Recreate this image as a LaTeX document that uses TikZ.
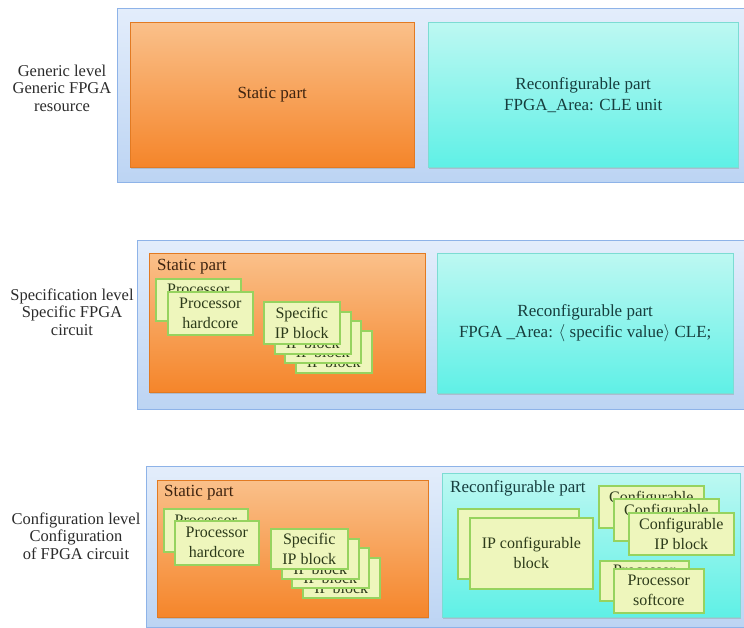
\documentclass[tikz,border=0pt]{standalone}
\usepackage{fontspec}
\setmainfont{Liberation Serif}
\usetikzlibrary{positioning,shadows}
\definecolor{levtop}{HTML}{E3EDFB}
\definecolor{levbot}{HTML}{BCD4F3}
\definecolor{leveledge}{HTML}{8EB3E8}
\definecolor{orgtop}{HTML}{FAC08A}
\definecolor{orgbot}{HTML}{F5852A}
\definecolor{orgedge}{HTML}{E27A22}
\definecolor{orgtext}{HTML}{3E2410}
\definecolor{cyntop}{HTML}{BDF8F2}
\definecolor{cynbot}{HTML}{5FF0E6}
\definecolor{cynedge}{HTML}{7CDCD3}
\definecolor{cyntext}{HTML}{173E3E}
\definecolor{ipfill}{HTML}{EEF6BC}
\definecolor{ipedge}{HTML}{96D35F}
\definecolor{iptext}{HTML}{2C3A1A}
\definecolor{labeltext}{HTML}{2B2B2B}
\newcommand{\bodyfont}{\fontsize{17}{21}\selectfont}
\newcommand{\ipfont}{\fontsize{16}{20}\selectfont}
\newcommand{\labelfont}{\fontsize{16.5}{17.5}\selectfont}
\tikzset{
    levelbox/.style={anchor=north west,inner sep=0pt,draw=leveledge,line width=1.2pt,top color=levtop,bottom color=levbot},
    partbox/.style={anchor=north west,align=center,inner sep=0pt,font=\bodyfont,
        drop shadow={shadow xshift=1.2pt,shadow yshift=-1.6pt,opacity=.3}},
    staticbox/.style={partbox,top color=orgtop,bottom color=orgbot,draw=orgedge,text=orgtext},
    reconfbox/.style={partbox,top color=cyntop,bottom color=cynbot,draw=cynedge,text=cyntext},
    ipbox/.style={partbox,font=\ipfont,fill=ipfill,draw=ipedge,line width=1.6pt,text=iptext},
    partlabel/.style={anchor=north west,inner sep=0pt,font=\bodyfont},
    levellabel/.style={align=center,font=\labelfont,text=labeltext},
}

\begin{document}
\begin{tikzpicture}[x=1pt,y=-1pt]
    \useasboundingbox (0,0) rectangle (744,628);

    % generic level
    \node[levelbox,minimum width=634pt,minimum height=174pt] (gen) at (117,8) {};
    \node[staticbox,minimum width=284pt,minimum height=145pt] (genstat) at (130,22) {Static part};
    \node[reconfbox,minimum width=310pt,minimum height=145pt] (genreconf) at (428,22)
        {Reconfigurable part\\FPGA\_Area: CLE unit};
    \node[levellabel] (genlbl) at (62,88) {Generic level\\Generic FPGA\\resource};

    % specification level
    \node[levelbox,minimum width=614pt,minimum height=169pt] (spec) at (137,240) {};
    \node[staticbox,minimum width=276pt,minimum height=139pt] (specstat) at (149,253) {};
    \node[partlabel,text=orgtext,below right=6pt and 8pt of specstat.north west] (specstatlbl) {Static part};
    \node[reconfbox,minimum width=296pt,minimum height=140pt] (specreconf) at (437,253)
        {Reconfigurable part\\FPGA \_Area: $\langle$ specific value$\rangle$ CLE;};
    \node[levellabel] (speclbl) at (72,312) {Specification level\\Specific FPGA\\circuit};

    \node[ipbox,minimum width=85pt,minimum height=42pt] (specproca) at (155,278) {Processor\\hardcore};
    \node[ipbox,minimum width=85pt,minimum height=43pt] (specprocb) at (167,291) {Processor\\hardcore};

    \node[ipbox,minimum width=76pt,minimum height=42pt] (specipd) at (295,330) {Specific\\IP block};
    \node[ipbox,minimum width=76pt,minimum height=42pt] (specipc) at (284,320) {Specific\\IP block};
    \node[ipbox,minimum width=76pt,minimum height=42pt] (specipb) at (274,311) {Specific\\IP block};
    \node[ipbox,minimum width=76pt,minimum height=42pt] (specipa) at (263,301) {Specific\\IP block};

    % configuration level
    \node[levelbox,minimum width=605pt,minimum height=161pt] (conf) at (146,466) {};
    \node[staticbox,minimum width=271pt,minimum height=137pt] (confstat) at (157,480) {};
    \node[partlabel,text=orgtext,below right=5pt and 7pt of confstat.north west] (confstatlbl) {Static part};
    \node[reconfbox,minimum width=298pt,minimum height=144pt] (confreconf) at (442,473) {};
    \node[partlabel,text=cyntext,below right=7pt and 8pt of confreconf.north west] (confreconflbl) {Reconfigurable part};
    \node[levellabel] (conflbl) at (76,536) {Configuration level\\Configuration\\of FPGA circuit};

    \node[ipbox,minimum width=84pt,minimum height=43pt] (confproca) at (163,508) {Processor\\hardcore};
    \node[ipbox,minimum width=84pt,minimum height=44pt] (confprocb) at (174,520) {Processor\\hardcore};

    \node[ipbox,minimum width=77pt,minimum height=40pt] (confipd) at (302,557) {Specific\\IP block};
    \node[ipbox,minimum width=77pt,minimum height=40pt] (confipc) at (291,547) {Specific\\IP block};
    \node[ipbox,minimum width=77pt,minimum height=40pt] (confipb) at (281,538) {Specific\\IP block};
    \node[ipbox,minimum width=77pt,minimum height=40pt] (confipa) at (270,528) {Specific\\IP block};

    \node[ipbox,minimum width=121pt,minimum height=70pt] (ipconfa) at (457,508) {IP configurable\\block};
    \node[ipbox,minimum width=123pt,minimum height=71pt] (ipconfb) at (469,517) {IP configurable\\block};

    \node[ipbox,minimum width=105pt,minimum height=42pt] (cfgipa) at (598,485) {Configurable\\IP block};
    \node[ipbox,minimum width=105pt,minimum height=42pt] (cfgipb) at (613,498) {Configurable\\IP block};
    \node[ipbox,minimum width=105pt,minimum height=42pt] (cfgipc) at (628,512) {Configurable\\IP block};

    \node[ipbox,minimum width=89pt,minimum height=40pt] (softa) at (599,560) {Processor\\softcore};
    \node[ipbox,minimum width=90pt,minimum height=44pt] (softb) at (613,568) {Processor\\softcore};
\end{tikzpicture}
\end{document}
